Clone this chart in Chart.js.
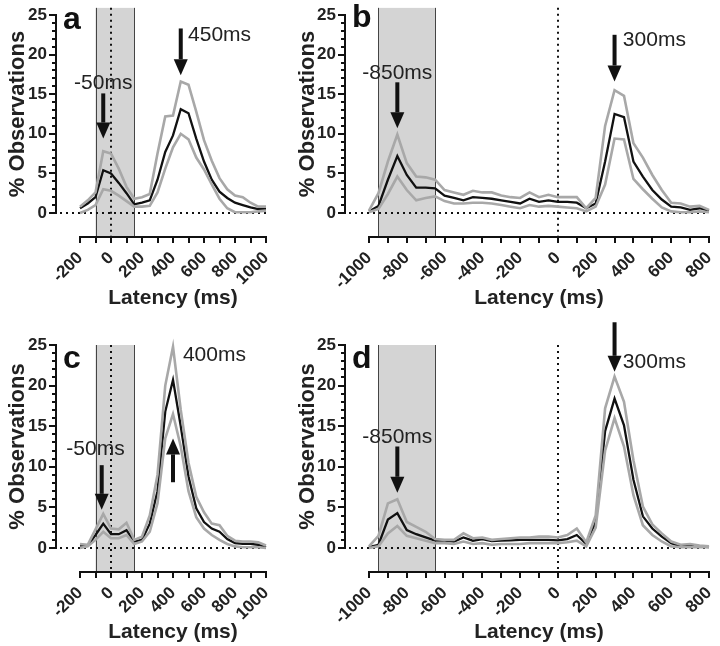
<!DOCTYPE html>
<html>
<head>
<meta charset="utf-8">
<script src="https://cdn.jsdelivr.net/npm/chart.js@4"></script>
<style>
  body { margin: 0; background: #fff; }
  #wrap { position: relative; width: 720px; height: 646px; }
  canvas { position: absolute; }
</style>
</head>
<body>
<div id="wrap">
  <canvas id="panelA" width="290" height="318" style="left:0;top:0"></canvas>
  <canvas id="panelB" width="430" height="318" style="left:290px;top:0"></canvas>
  <canvas id="panelC" width="290" height="328" style="left:0;top:318px"></canvas>
  <canvas id="panelD" width="430" height="328" style="left:290px;top:318px"></canvas>
</div>
<script>
// latency bins (ms)
const latAC = [-200,-150,-100,-50,0,50,100,150,200,250,300,350,400,450,500,550,600,650,700,750,800,850,900,950,1000];
const latBD = [-1000,-950,-900,-850,-800,-750,-700,-650,-600,-550,-500,-450,-400,-350,-300,-250,-200,-150,-100,-50,
               0,50,100,150,200,250,300,350,400,450,500,550,600,650,700,750,800];

// panel a
const meanA  = [0.6,1.2,2.0,5.4,5.0,3.8,2.5,1.1,1.3,1.6,4.2,7.7,9.8,13.1,12.6,9.4,6.5,4.2,2.7,1.9,1.3,1.0,0.7,0.5,0.5];
const upperA = [0.8,1.6,2.6,7.8,7.5,5.6,3.3,1.8,2.0,2.4,7.5,12.2,12.3,16.6,16.2,12.8,9.2,6.6,4.4,3.0,2.2,2.0,1.3,0.8,0.8];
const lowerA = [0.0,0.4,1.0,3.0,2.8,2.2,1.5,0.8,0.8,0.9,2.6,5.6,8.3,10.0,9.3,7.0,5.5,3.6,1.8,0.6,0.1,0.1,0.1,0.2,0.3];

// panel b
const meanB  = [0.2,0.9,4.2,7.2,4.8,3.2,3.2,3.1,2.2,1.9,1.6,2.0,1.9,1.8,1.6,1.4,1.2,1.8,1.4,1.6,
                1.4,1.4,1.3,0.6,1.2,6.5,12.5,12.1,6.5,4.6,2.9,1.7,0.8,0.7,0.4,0.6,0.3];
const upperB = [0.3,2.5,6.5,9.9,6.3,4.6,4.5,4.2,2.9,2.6,2.3,2.8,2.6,2.6,2.2,2.0,1.9,2.6,2.0,2.3,
                2.0,2.0,2.0,0.6,1.9,11.0,15.5,14.8,8.8,7.0,4.8,2.9,1.3,1.2,0.8,0.9,0.4];
const lowerB = [0.1,0.5,2.4,4.6,2.9,1.6,1.9,2.1,1.5,1.2,1.2,1.3,1.3,1.2,1.0,0.8,0.6,1.0,0.8,0.9,
                0.8,0.7,0.6,0.2,0.8,3.6,9.4,9.3,4.3,3.0,1.8,0.7,0.2,0.1,0.1,0.2,0.1];

// panel c
const meanC  = [0.3,0.3,1.6,3.0,1.7,1.7,2.2,0.8,1.0,3.0,7.0,16.8,20.7,15.0,8.8,4.9,3.2,2.4,2.0,1.1,0.6,0.5,0.5,0.4,0.1];
const upperC = [0.5,0.4,2.3,4.2,2.4,2.3,3.1,1.0,1.4,4.0,9.0,20.0,24.8,17.0,10.5,6.3,4.4,3.0,2.8,1.5,0.9,0.8,0.8,0.7,0.3];
const lowerC = [0.0,0.2,1.0,2.0,1.2,1.2,1.6,0.5,0.8,2.0,5.5,13.5,16.5,12.5,7.0,3.8,2.4,1.6,1.0,0.5,0.2,0.1,0.1,0.1,0.0];

// panel d
const meanD  = [0.1,0.4,3.5,4.3,2.2,1.7,1.3,0.9,0.9,0.8,1.3,0.9,1.1,0.85,0.9,0.95,1.0,1.0,1.0,1.0,
                0.95,1.1,1.6,0.5,3.2,14.4,18.4,15.1,8.4,3.9,2.4,1.4,0.6,0.2,0.3,0.2,0.1];
const upperD = [0.2,1.5,5.5,6.0,3.2,2.6,2.0,1.1,1.0,1.0,1.8,1.2,1.3,1.0,1.1,1.2,1.3,1.3,1.4,1.4,
                1.3,1.6,2.4,0.7,4.0,17.2,21.1,18.0,10.8,5.1,2.9,1.8,0.8,0.4,0.5,0.3,0.2];
const lowerD = [0.0,0.2,1.8,2.7,1.5,1.2,0.9,0.6,0.6,0.5,0.8,0.5,0.6,0.4,0.5,0.5,0.5,0.6,0.6,0.6,
                0.6,0.7,0.9,0.2,2.5,12.0,16.0,12.5,6.5,2.8,1.6,0.8,0.2,0.1,0.1,0.1,0.1];

// tick labels
const yTicks   = [0,5,10,15,20,25];
const xTicksAC = [-200,0,200,400,600,800,1000];
const xTicksBD = [-1000,-800,-600,-400,-200,0,200,400,600,800];

// shaded windows [from, to] in ms
const shadeAC = [-100,150];
const shadeBD = [-950,-650];

// arrows (x, tail value, tip value) and labels
const arrowsA = [{x:-50, from:15.1, to:9.4}, {x:450, from:23.3, to:17.4}];
const labelsA = [{text:'-50ms', x:-50, y:16.4, align:'center'}, {text:'450ms', x:497, y:22.5, align:'left'}];
const arrowsB = [{x:-850, from:16.5, to:10.7}, {x:300, from:22.5, to:16.6}];
const labelsB = [{text:'-850ms', x:-850, y:17.6, align:'center'}, {text:'300ms', x:344, y:21.8, align:'left'}];
const arrowsC = [{x:-60, from:10.2, to:4.7}, {x:400, from:8.1, to:13.5}];
const labelsC = [{text:'-50ms', x:-100, y:12.2, align:'center'}, {text:'400ms', x:464, y:23.8, align:'left'}];
const arrowsD = [{x:-850, from:12.5, to:6.8}, {x:300, from:27.8, to:21.7}];
const labelsD = [{text:'-850ms', x:-850, y:13.7, align:'center'}, {text:'300ms', x:344, y:22.9, align:'left'}];

Chart.defaults.font.family = '"Liberation Sans", Arial, sans-serif';
Chart.defaults.color = '#111';

const prism = {
  id: 'prism',
  beforeDatasetsDraw(chart, args, o) {
    const {ctx, chartArea: ca, scales: {x, y}} = chart;
    const y0 = y.getPixelForValue(0), axisY = y0 + o.drop;
    const axisX = ca.left - o.shift;
    const top = y.getPixelForValue(o.shadeTop);
    const s0 = x.getPixelForValue(o.shade[0]), s1 = x.getPixelForValue(o.shade[1]);
    ctx.save();
    ctx.fillStyle = '#d4d4d4';
    ctx.fillRect(s0, top, s1 - s0, axisY - top);
    ctx.strokeStyle = '#444'; ctx.lineWidth = 1;
    ctx.beginPath();
    [s0, s1].forEach(px => { ctx.moveTo(Math.round(px) + .5, top); ctx.lineTo(Math.round(px) + .5, axisY); });
    ctx.stroke();
    // dotted zero lines
    ctx.strokeStyle = '#111'; ctx.lineWidth = 2; ctx.setLineDash([2, 4]);
    ctx.beginPath();
    ctx.moveTo(axisX + 4, y0); ctx.lineTo(ca.right, y0);
    const z = Math.round(x.getPixelForValue(0));
    ctx.moveTo(z, top); ctx.lineTo(z, axisY);
    ctx.stroke();
    ctx.restore();
  },
  afterDatasetsDraw(chart, args, o) {
    const {ctx, chartArea: ca, scales: {x, y}} = chart;
    ctx.save();
    ctx.fillStyle = '#111';
    o.arrows.forEach(a => {
      const px = x.getPixelForValue(a.x);
      const p1 = y.getPixelForValue(a.from), p2 = y.getPixelForValue(a.to);
      const dir = p2 > p1 ? 1 : -1, head = 16;
      ctx.fillRect(px - 2, Math.min(p1, p2 - dir * head), 4, Math.abs(p2 - dir * head - p1));
      ctx.beginPath();
      ctx.moveTo(px - 7, p2 - dir * head);
      ctx.lineTo(px + 7, p2 - dir * head);
      ctx.lineTo(px, p2);
      ctx.closePath();
      ctx.fill();
    });
    ctx.font = '21px "Liberation Sans", Arial, sans-serif';
    ctx.fillStyle = '#222';
    ctx.textBaseline = 'middle';
    o.labels.forEach(l => {
      ctx.textAlign = l.align;
      ctx.fillText(l.text, x.getPixelForValue(l.x), y.getPixelForValue(l.y));
    });
    ctx.font = 'bold 32px "Liberation Sans", Arial, sans-serif';
    ctx.fillStyle = '#111';
    ctx.textAlign = 'left'; ctx.textBaseline = 'alphabetic';
    ctx.fillText(o.letter, ca.left - o.shift + o.letterPos[0], ca.top + o.letterPos[1]);
    ctx.restore();
  },
  afterDraw(chart, args, o) {
    const {ctx, chartArea: ca, scales: {x, y}} = chart;
    const axisX = ca.left - o.shift, axisY = y.getPixelForValue(0) + o.drop;
    ctx.save();
    ctx.strokeStyle = '#111'; ctx.lineWidth = 2;
    ctx.beginPath();
    ctx.moveTo(axisX, y.getPixelForValue(y.min) + 1); ctx.lineTo(axisX, y.getPixelForValue(y.max) - 1);
    for (let v = y.min; v <= y.max; v += 1) {
      const py = Math.round(y.getPixelForValue(v));
      ctx.moveTo(axisX, py); ctx.lineTo(axisX - (v % 5 === 0 ? 7 : 4), py);
    }
    ctx.moveTo(x.getPixelForValue(x.min) - 1, axisY); ctx.lineTo(x.getPixelForValue(x.max) + 1, axisY);
    for (let v = x.min; v <= x.max; v += 100) {
      const px = Math.round(x.getPixelForValue(v));
      ctx.moveTo(px, axisY); ctx.lineTo(px, axisY + 6);
    }
    ctx.stroke();
    ctx.restore();
  }
};

const line = (lat, vals, color, width) => ({
  data: lat.map((v, i) => ({x: v, y: vals[i]})),
  borderColor: color, borderWidth: width, pointRadius: 0, tension: 0, clip: false
});

function panel(id, p) {
  return new Chart(document.getElementById(id), {
    type: 'line',
    data: { datasets: [
      line(p.lat, p.upper, '#a8a8a8', 2.6),
      line(p.lat, p.lower, '#a8a8a8', 2.6),
      line(p.lat, p.mean, '#111', 2.3)
    ]},
    options: {
      responsive: false, animation: false, devicePixelRatio: 1,
      layout: { padding: { top: p.top, right: p.right, left: 0, bottom: 0 } },
      plugins: {
        legend: { display: false }, tooltip: { enabled: false },
        prism: { shift: 24, drop: 24, shade: p.shade, shadeTop: p.shadeTop,
                 arrows: p.arrows, labels: p.labels, letter: p.letter, letterPos: p.letterPos }
      },
      scales: {
        x: {
          type: 'linear', min: p.lat[0], max: p.lat[p.lat.length - 1],
          afterBuildTicks: s => { s.ticks = p.xTicks.map(v => ({value: v})); },
          afterFit: s => { s.height = p.xHeight; s.paddingLeft = 0; s.paddingRight = 0; },
          grid: { display: false, drawTicks: false }, border: { display: false },
          ticks: { autoSkip: false, minRotation: 45, maxRotation: 45, padding: 35,
                   callback: v => String(v),
                   font: { size: 17, weight: 'bold' }, color: '#222' },
          title: { display: true, text: 'Latency (ms)', font: { size: 21, weight: 'bold' },
                   color: '#222', padding: { top: 0, bottom: p.xTitlePad } }
        },
        y: {
          min: 0, max: 25,
          afterBuildTicks: s => { s.ticks = yTicks.map(v => ({value: v})); },
          afterFit: s => { s.width = p.yWidth; s.paddingTop = 0; s.paddingBottom = 0; },
          grid: { display: false, drawTicks: false }, border: { display: false },
          ticks: { padding: 33, callback: v => String(v),
                   font: { size: 17, weight: 'bold' }, color: '#222' },
          title: { display: true, text: '% Observations', font: { size: 22, weight: 'bold' },
                   color: '#222', padding: { top: p.yTitlePad, bottom: 0 } }
        }
      }
    },
    plugins: [prism]
  });
}

panel('panelA', { lat: latAC, mean: meanA, upper: upperA, lower: lowerA, xTicks: xTicksAC,
  shade: shadeAC, shadeTop: 25.9, arrows: arrowsA, labels: labelsA, letter: 'a', letterPos: [7, 14],
  top: 15, right: 24, yWidth: 80, xHeight: 105, yTitlePad: 5, xTitlePad: 7 });
panel('panelB', { lat: latBD, mean: meanB, upper: upperB, lower: lowerB, xTicks: xTicksBD,
  shade: shadeBD, shadeTop: 25.9, arrows: arrowsB, labels: labelsB, letter: 'b', letterPos: [7, 12],
  top: 15, right: 11, yWidth: 79, xHeight: 105, yTitlePad: 5, xTitlePad: 7 });
panel('panelC', { lat: latAC, mean: meanC, upper: upperC, lower: lowerC, xTicks: xTicksAC,
  shade: shadeAC, shadeTop: 25, arrows: arrowsC, labels: labelsC, letter: 'c', letterPos: [7, 23],
  top: 27, right: 24, yWidth: 80, xHeight: 98, yTitlePad: 5, xTitlePad: 1 });
panel('panelD', { lat: latBD, mean: meanD, upper: upperD, lower: lowerD, xTicks: xTicksBD,
  shade: shadeBD, shadeTop: 25, arrows: arrowsD, labels: labelsD, letter: 'd', letterPos: [7, 23],
  top: 27, right: 11, yWidth: 79, xHeight: 98, yTitlePad: 5, xTitlePad: 1 });
</script>
</body>
</html>
